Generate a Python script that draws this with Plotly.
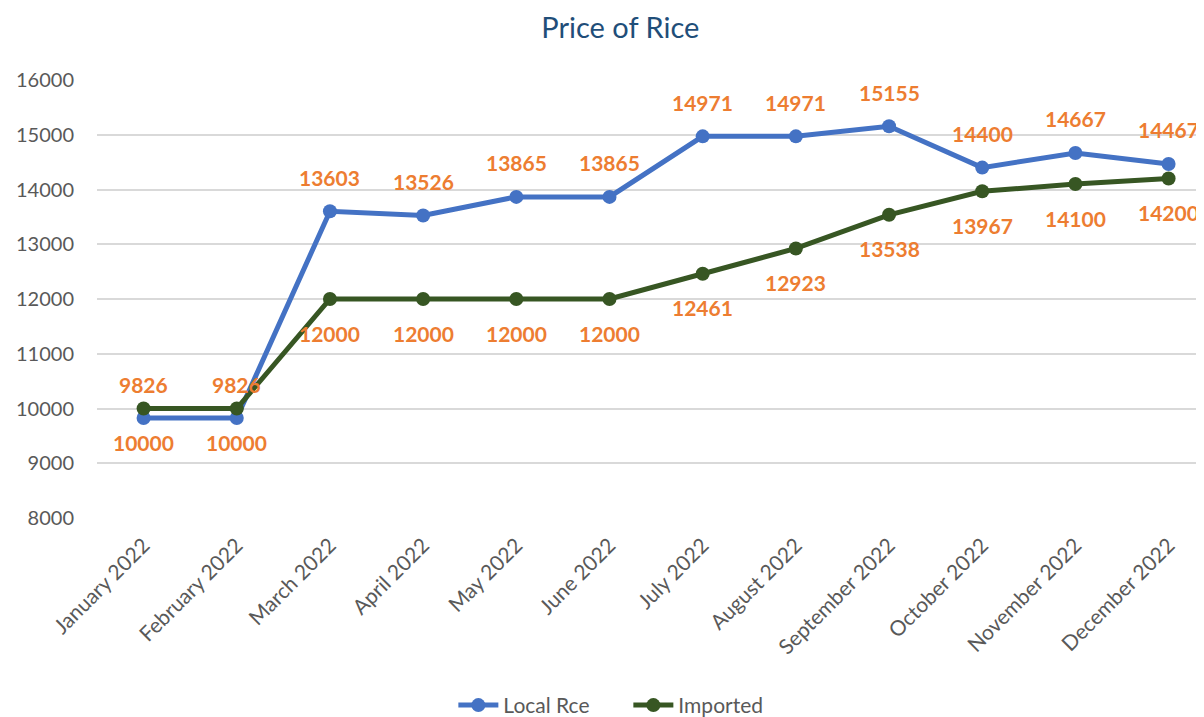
import plotly.graph_objects as go

months = ["January 2022", "February 2022", "March 2022", "April 2022", "May 2022", "June 2022",
          "July 2022", "August 2022", "September 2022", "October 2022", "November 2022", "December 2022"]
local_rice = [9826, 9826, 13603, 13526, 13865, 13865, 14971, 14971, 15155, 14400, 14667, 14467]
imported = [10000, 10000, 12000, 12000, 12000, 12000, 12461, 12923, 13538, 13967, 14100, 14200]
y_ticks = [8000, 9000, 10000, 11000, 12000, 13000, 14000, 15000, 16000]
y_tick_labels = ["8000", "9000", "10000", "11000", "12000", "13000", "14000", "15000", "16000"]

BLUE = "#4472C4"
GREEN = "#375623"
ORANGE = "#ED7D31"
GRAY = "#595959"
FONT = "Lato"

x_idx = list(range(len(months)))

fig = go.Figure()
fig.add_trace(go.Scatter(x=x_idx, y=local_rice, mode="lines+markers", name="Local Rce",
                         line=dict(color=BLUE, width=5), marker=dict(color=BLUE, size=14),
                         cliponaxis=False))
fig.add_trace(go.Scatter(x=x_idx, y=imported, mode="lines+markers", name="Imported",
                         line=dict(color=GREEN, width=5), marker=dict(color=GREEN, size=14),
                         cliponaxis=False))

annotations = []
for i, v in zip(x_idx, local_rice):
    annotations.append(dict(x=i, y=v, xref="x", yref="y", text=str(v), showarrow=False,
                            yshift=34, font=dict(family=FONT, size=21, color=ORANGE, weight="bold")))
for i, v in zip(x_idx, imported):
    annotations.append(dict(x=i, y=v, xref="x", yref="y", text=str(v), showarrow=False,
                            yshift=-34, font=dict(family=FONT, size=21, color=ORANGE, weight="bold")))

fig.update_layout(
    width=1196, height=709,
    margin=dict(l=89, r=0, t=72, b=199, autoexpand=False),
    paper_bgcolor="white", plot_bgcolor="white",
    title=dict(text="Price of Rice", x=0.512, xanchor="center", y=0.972, yanchor="middle",
               font=dict(family=FONT, size=29, color="#1F4E79")),
    font=dict(family=FONT, color=GRAY, size=20),
    showlegend=True,
    legend=dict(orientation="h", x=0.480, xanchor="center", y=-0.428, yanchor="middle",
                font=dict(family=FONT, size=21, color=GRAY), itemwidth=40,
                entrywidth=120, entrywidthmode="pixels"),
    annotations=annotations,
)
fig.update_xaxes(range=[-0.5, 11.38], tickmode="array", tickvals=x_idx, ticktext=months,
                 tickangle=-45, showgrid=False, zeroline=False, showline=False, automargin=False,
                 tickfont=dict(family=FONT, size=21, color=GRAY), ticklabelstandoff=10)
fig.update_yaxes(range=[8000, 16000], tickmode="array", tickvals=y_ticks, ticktext=y_tick_labels,
                 showgrid=True, gridcolor="#D9D9D9", gridwidth=1.5, zeroline=False, showline=False,
                 automargin=False,
                 tickfont=dict(family=FONT, size=20, color=GRAY), ticklabelstandoff=22)

fig.write_html("out.html")
